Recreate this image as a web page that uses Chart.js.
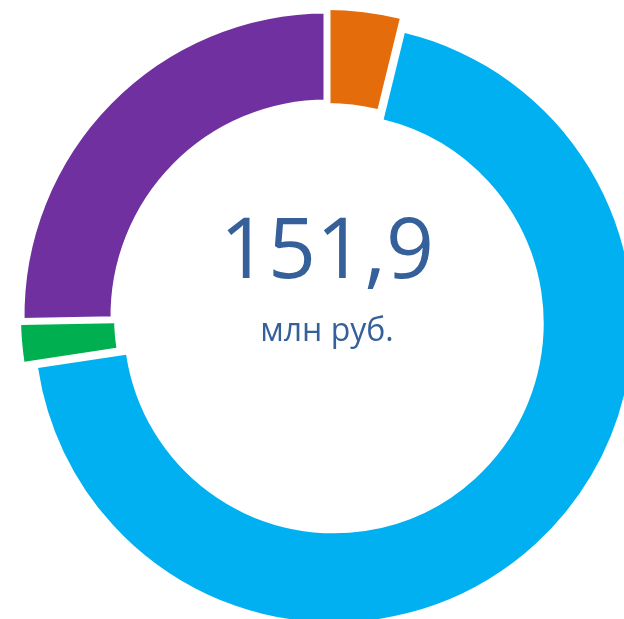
<!DOCTYPE html>
<html lang="ru">
<head>
    <meta charset="UTF-8">
    <title>151,9 млн руб.</title>
    <script src="https://cdn.jsdelivr.net/npm/chart.js"></script>
    <style>
        html, body {
            margin: 0;
            padding: 0;
            width: 624px;
            height: 619px;
            overflow: hidden;
            background: #fff;
        }
        #ring {
            position: absolute;
            left: -3px;
            top: -14px;
        }
    </style>
</head>
<body>
    <canvas id="ring" width="660" height="660"></canvas>

    <script>
        // segments, clockwise from 12 o'clock (млн руб.)
        const labels = ['Сегмент 1', 'Сегмент 2', 'Сегмент 3', 'Сегмент 4'];
        const values = [5.8, 104.5, 3.2, 38.4];
        const colors = ['#E46C0A', '#00B0F0', '#00B050', '#7030A0'];
        const totalText = '151,9';
        const unitText = 'млн руб.';

        const textColor = '#36609A';
        const pulledIndex = 1; // the blue slice is pulled out a little

        // shift + shrink the pulled-out slice, like the office chart does
        const explodePlugin = {
            id: 'explode',
            afterDatasetsUpdate(chart) {
                const arc = chart.getDatasetMeta(0).data[pulledIndex];
                if (!arc) return;
                const mid = (arc.startAngle + arc.endAngle) / 2;
                arc.x += Math.cos(mid) * 10;
                arc.y += Math.sin(mid) * 10;
                arc.outerRadius -= 7;
                arc.innerRadius -= 3;
            }
        };

        const centerText = {
            id: 'centerText',
            afterDraw(chart) {
                const ctx = chart.ctx;
                const area = chart.chartArea;
                const cx = (area.left + area.right) / 2;
                const cy = (area.top + area.bottom) / 2;
                ctx.save();
                ctx.fillStyle = textColor;
                ctx.textAlign = 'center';
                ctx.textBaseline = 'alphabetic';
                ctx.font = '500 84px "Open Sans", sans-serif';
                ctx.fillText(totalText, cx, cy - 38);
                ctx.font = '400 32px "Open Sans", sans-serif';
                ctx.fillText(unitText, cx, cy + 25);
                ctx.restore();
            }
        };

        new Chart(document.getElementById('ring'), {
            type: 'doughnut',
            data: {
                labels: labels,
                datasets: [{
                    data: values,
                    backgroundColor: colors,
                    borderColor: '#ffffff',
                    borderWidth: [0, 0, 0, 7],
                    hoverOffset: 0
                }]
            },
            options: {
                responsive: false,
                animation: false,
                radius: 306,
                cutout: '69.6%',
                layout: { padding: 0 },
                plugins: {
                    legend: { display: false },
                    tooltip: { enabled: false }
                }
            },
            plugins: [explodePlugin, centerText]
        });
    </script>
</body>
</html>
